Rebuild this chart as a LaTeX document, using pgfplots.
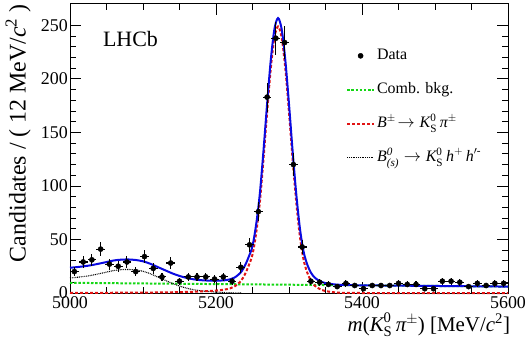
\documentclass[border=0pt]{standalone}
\usepackage{pgfplots}
\pgfplotsset{compat=1.18}
\usepackage{pgfplotstable}
\usepackage{amsmath}
\usepackage{fontspec}
\setmainfont{Liberation Serif}
\definecolor{rgreen}{RGB}{20,215,20}
\definecolor{rred}{RGB}{225,20,20}
\definecolor{rblue}{RGB}{10,10,225}

\pgfplotstableread{
m n e
5006 20 4.47
5018 29 5.39
5030 31 5.57
5042 41 6.40
5054 27 5.20
5066 25 5.00
5078 29 5.39
5090 20 4.47
5102 34 5.83
5114 23 4.80
5126 15 3.87
5138 28 5.29
5150 11 3.32
5162 15 3.87
5174 15 3.87
5186 15 3.87
5198 13 3.61
5210 15 3.87
5222 11 3.32
5234 24 4.90
5246 45 6.71
5258 76 8.72
5270 183 13.53
5282 238 15.43
5294 234 15.30
5306 120 10.95
5318 43 6.56
5330 11 3.32
5342 10 3.16
5354 8 2.83
5366 6 2.45
5378 9 3.00
5390 7 2.65
5402 4 2.00
5414 7 2.65
5426 7 2.65
5438 7 2.65
5450 9 3.00
5462 8 2.83
5474 8 2.83
5486 4 2.00
5498 4 2.00
5510 11 3.32
5522 11 3.32
5534 10 3.16
5546 6 2.45
5558 9 3.00
5570 7 2.65
5582 9 3.00
5594 9 3.00
}\datatable

\pgfplotstableread{
m comb bs sig tot
5000 9.50 14.0 0.10 23.60
5010 9.44 14.7 0.10 24.24
5020 9.38 15.5 0.15 25.03
5030 9.33 16.6 0.15 26.08
5040 9.27 18.0 0.20 27.47
5050 9.21 19.5 0.20 28.91
5060 9.15 21.0 0.25 30.40
5070 9.09 21.8 0.25 31.14
5080 9.03 22.0 0.30 31.33
5090 8.98 21.5 0.35 30.83
5100 8.92 20.3 0.40 29.62
5110 8.86 18.0 0.45 27.31
5120 8.80 15.0 0.50 24.30
5130 8.74 12.0 0.60 21.34
5140 8.68 9.0 0.70 18.38
5150 8.63 6.5 0.80 15.93
5160 8.57 4.5 1.00 14.07
5170 8.51 3.0 1.20 12.71
5180 8.45 2.0 1.50 11.95
5190 8.39 1.4 1.80 11.59
5200 8.33 0.9 2.20 11.43
5205 8.30 0.7 2.60 11.60
5210 8.27 0.5 3.00 11.77
5215 8.25 0.3 3.60 12.15
5220 8.22 0.2 4.50 12.92
5225 8.19 0.1 6.00 14.29
5230 8.16 0.05 8.50 16.71
5235 8.13 0.0 12.0 20.13
5240 8.10 0.0 18.0 26.10
5245 8.07 0.0 26.0 34.07
5250 8.04 0.0 36.0 44.04
5255 8.01 0.0 56.0 64.01
5260 7.98 0.0 84.5 92.48
5265 7.95 0.0 124.6 132.55
5270 7.93 0.0 168.7 176.63
5275 7.90 0.0 209.5 217.40
5280 7.87 0.0 238.5 246.37
5285 7.84 0.0 249.0 256.84
5290 7.81 0.0 238.5 246.31
5295 7.78 0.0 209.5 217.28
5300 7.75 0.0 168.7 176.45
5305 7.72 0.0 124.6 132.32
5310 7.69 0.0 84.5 92.19
5315 7.66 0.0 52.5 60.16
5320 7.63 0.0 31.0 38.63
5325 7.60 0.0 19.0 26.60
5330 7.58 0.0 11.5 19.08
5335 7.55 0.0 7.0 14.55
5340 7.52 0.0 4.5 12.02
5345 7.49 0.0 2.8 10.29
5350 7.46 0.0 1.8 9.26
5360 7.40 0.0 0.8 8.20
5370 7.34 0.0 0.3 7.64
5380 7.28 0.0 0.1 7.38
5400 7.17 0.0 0.0 7.17
5450 6.88 0.0 0.0 6.88
5500 6.58 0.0 0.0 6.58
5550 6.29 0.0 0.0 6.29
5600 6.00 0.0 0.0 6.00
}\fittable

\begin{document}
\begin{tikzpicture}
\begin{axis}[
  name=ax,
  scale only axis,
  width=438bp, height=289bp,
  xmin=5000, xmax=5600, ymin=0, ymax=270,
  xtick={5000,5200,5400,5600},
  ytick={0,50,100,150,200,250},
  minor x tick num=3,
  minor y tick num=4,
  tick align=inside,
  major tick length=11bp,
  minor tick length=6bp,
  axis line style={line width=1bp},
  every tick/.style={line width=0.9bp, black},
  scaled x ticks=false, scaled y ticks=false,
  /pgf/number format/1000 sep={},
  /pgf/number format/assume math mode=true,
  xticklabel style={font=\fontsize{18}{18}\selectfont, inner sep=1.5bp, yshift=-2bp},
  yticklabel style={font=\fontsize{18}{18}\selectfont, inner sep=2bp},
  clip=false,
  xlabel={\textit{m}($\textit{K}^{\text{0}}_{\text{S}}\,\textit{π}^{\pm}$) [MeV/\textit{c}$^{\text{2}}$]},
  xlabel style={at={(axis description cs:1.005,-0.069)}, anchor=north east, inner sep=0pt, font=\fontsize{21}{21}\selectfont},
  ylabel={Candidates / ( 12 MeV/\textit{c}$^{\text{2}}$ )},
  ylabel style={at={(axis description cs:-0.089,1)}, anchor=south east, inner sep=0pt, font=\fontsize{24}{24}\selectfont},
  legend style={at={(axis description cs:0.63,0.856)}, anchor=north west, draw=none, fill=none,
    font=\fontsize{16}{16}\selectfont, inner sep=0pt, row sep=14bp,
    nodes={text height=12bp, text depth=4bp, inner sep=2bp},
    cells={anchor=west}},
]
\addlegendimage{legend image code/.code={\fill[black] (0.475cm,0cm) circle (2.6bp);}}
\addlegendentry{Data}
\addlegendimage{legend image code/.code={\draw[rgreen, line width=2bp, dash pattern=on 2.5bp off 1.7bp] (0cm,0cm) -- (0.95cm,0cm);}}
\addlegendentry{Comb. bkg.}
\addlegendimage{legend image code/.code={\draw[rred, line width=2bp, dash pattern=on 3bp off 2bp] (0cm,0cm) -- (0.95cm,0cm);}}
\addlegendentry{$\textit{B}^{\pm}\!\rightarrow \textit{K}^{\text{0}}_{\text{S}}\,\textit{π}^{\pm}$}
\addlegendimage{legend image code/.code={\draw[black, line width=1bp, dash pattern=on 0.9bp off 0.9bp] (0cm,0cm) -- (0.95cm,0cm);}}
\addlegendentry{$\textit{B}^{\text{\textit{0}}}_{\text{\textit{(s)}}}\rightarrow \textit{K}^{\text{0}}_{\text{S}}\,\textit{h}^{+}\,\textit{h}^{\prime\text{-}}$}

\addplot[forget plot, rgreen, line width=2bp, dash pattern=on 2.5bp off 1.7bp] table[x=m, y=comb] {\fittable};
\addplot[forget plot, black, line width=1.1bp, dash pattern=on 0.9bp off 0.9bp, smooth, restrict x to domain=5000:5235] table[x=m, y=bs] {\fittable};
\addplot[forget plot, rred, line width=2bp, dash pattern=on 3bp off 2bp, smooth] table[x=m, y=sig] {\fittable};
\addplot[forget plot, rblue, line width=2bp, smooth] table[x=m, y=tot] {\fittable};
\addplot[forget plot, black, only marks, mark=*, mark size=2.6bp,
  error bars/.cd, x dir=both, x fixed=6, y dir=both, y explicit,
  error mark=none, error bar style={line width=1.1bp, black}]
  table[x=m, y=n, y error=e] {\datatable};

\node[anchor=west, inner sep=0pt, font=\fontsize{22}{22}\selectfont] at (axis description cs:0.075,0.879) {LHCb};
\end{axis}
\path ([shift={(-70bp,-46bp)}]ax.south west) rectangle ([shift={(20bp,4bp)}]ax.north east);
\end{tikzpicture}
\end{document}
